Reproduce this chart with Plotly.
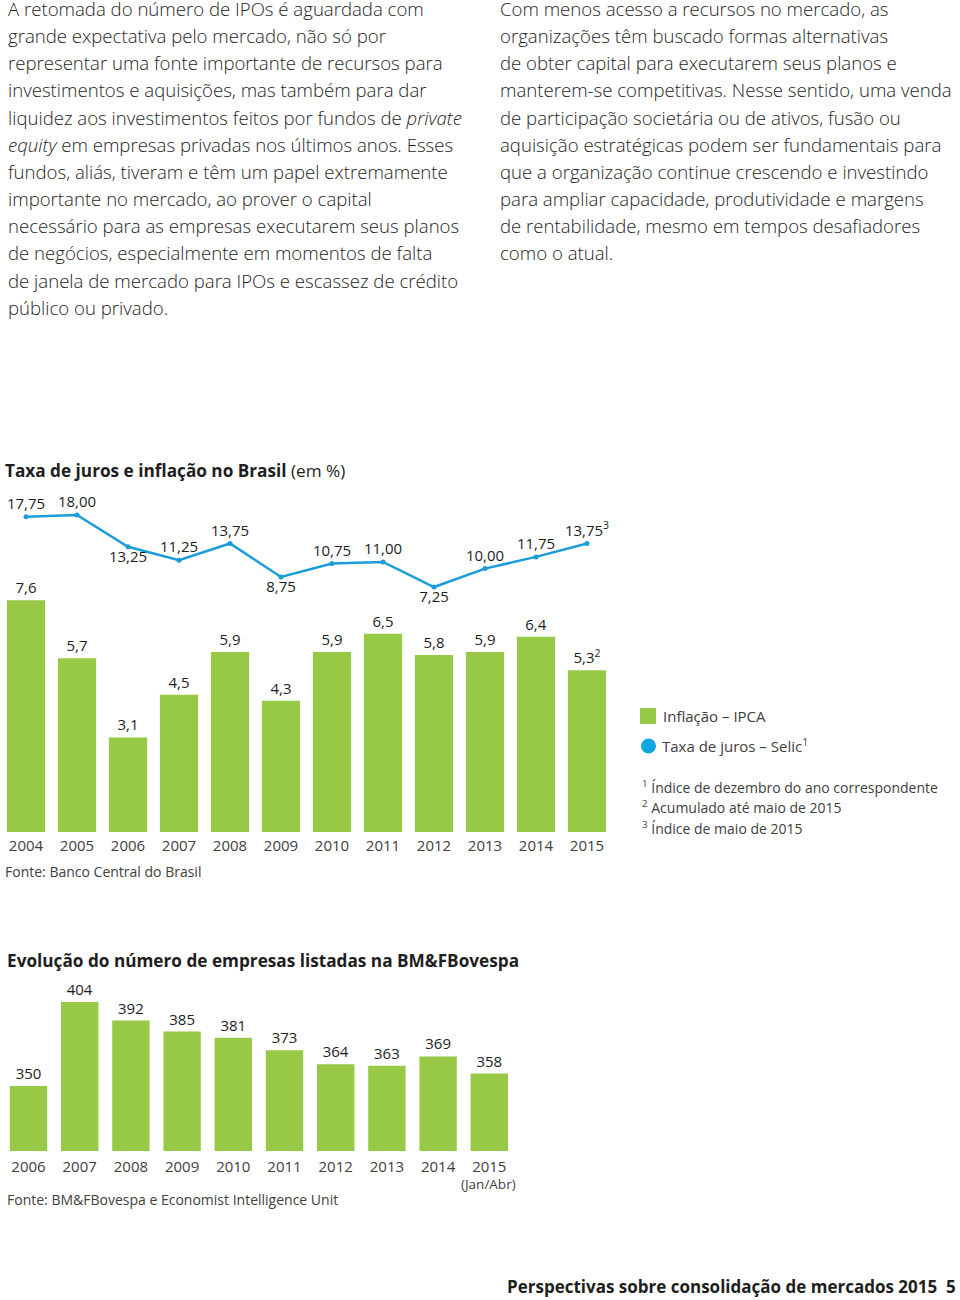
import plotly.graph_objects as go

W, H = 960, 1300

# ---------------- data ----------------
para_left = [
    "A retomada do número de IPOs é aguardada com",
    "grande expectativa pelo mercado, não só por",
    "representar uma fonte importante de recursos para",
    "investimentos e aquisições, mas também para dar",
    "liquidez aos investimentos feitos por fundos de <i>private</i>",
    "<i>equity</i> em empresas privadas nos últimos anos. Esses",
    "fundos, aliás, tiveram e têm um papel extremamente",
    "importante no mercado, ao prover o capital",
    "necessário para as empresas executarem seus planos",
    "de negócios, especialmente em momentos de falta",
    "de janela de mercado para IPOs e escassez de crédito",
    "público ou privado.",
]
para_right = [
    "Com menos acesso a recursos no mercado, as",
    "organizações têm buscado formas alternativas",
    "de obter capital para executarem seus planos e",
    "manterem-se competitivas. Nesse sentido, uma venda",
    "de participação societária ou de ativos, fusão ou",
    "aquisição estratégicas podem ser fundamentais para",
    "que a organização continue crescendo e investindo",
    "para ampliar capacidade, produtividade e margens",
    "de rentabilidade, mesmo em tempos desafiadores",
    "como o atual.",
]

rate_years = [2004, 2005, 2006, 2007, 2008, 2009, 2010, 2011, 2012, 2013, 2014, 2015]
ipca = [7.6, 5.7, 3.1, 4.5, 5.9, 4.3, 5.9, 6.5, 5.8, 5.9, 6.4, 5.3]
selic = [17.75, 18.00, 13.25, 11.25, 13.75, 8.75, 10.75, 11.00, 7.25, 10.00, 11.75, 13.75]
ipca_note = {2015: "2"}
selic_note = {2015: "3"}

listed_years = [2006, 2007, 2008, 2009, 2010, 2011, 2012, 2013, 2014, 2015]
listed = [350, 404, 392, 385, 381, 373, 364, 363, 369, 358]

footnotes = [
    ("1", "Índice de dezembro do ano correspondente"),
    ("2", "Acumulado até maio de 2015"),
    ("3", "Índice de maio de 2015"),
]

# ---------------- style ----------------
FONT = "Open Sans"
GREEN = "#97C846"
BLUE = "#1C9CD8"
BLUE_DOT = "#10A6E2"
TXT = "#1e1e1e"
GREY = "#404040"
selic_textpos = ["top center", "top center", "bottom center", "top center", "top center",
                 "bottom center", "top center", "top center", "bottom center", "top center",
                 "top center", "top center"]


def px(x):
    return x / W


def py(y):
    return 1 - y / H


def fmt(v, d, note=None):
    s = f"{v:.{d}f}".replace(".", ",")
    if note:
        s += f"<sup>{note}</sup>"
    return s


fig = go.Figure()

# Chart 1: IPCA bars
fig.add_trace(go.Bar(
    x=rate_years, y=ipca, width=0.75, marker=dict(color=GREEN, line=dict(width=0)),
    text=[fmt(v, 1, ipca_note.get(yr)) for yr, v in zip(rate_years, ipca)],
    textposition="outside", textfont=dict(family=FONT, size=15, color=TXT),
    cliponaxis=False, xaxis="x", yaxis="y", showlegend=False, hoverinfo="skip",
))
# Chart 1: Selic line
fig.add_trace(go.Scatter(
    x=rate_years, y=selic, mode="lines+markers+text",
    line=dict(color=BLUE, width=2.5), marker=dict(color=BLUE, size=5),
    text=[fmt(v, 2, selic_note.get(yr)) for yr, v in zip(rate_years, selic)],
    textposition=selic_textpos, textfont=dict(family=FONT, size=15, color=TXT),
    cliponaxis=False, xaxis="x", yaxis="y2", showlegend=False, hoverinfo="skip",
))
# Chart 2: listed companies
fig.add_trace(go.Bar(
    x=listed_years, y=listed, width=0.73, marker=dict(color=GREEN, line=dict(width=0)),
    text=[str(v) for v in listed],
    textposition="outside", textfont=dict(family=FONT, size=15, color=TXT),
    cliponaxis=False, xaxis="x2", yaxis="y3", showlegend=False, hoverinfo="skip",
))

tickfont = dict(family=FONT, size=15, color=GREY)

# axes geometry (pixels)
c1_left, c1_right, c1_bottom, c1_top = 0.5, 612.5, 832, 500
c2_left, c2_right, c2_bottom, c2_top = 2.9, 514.9, 1151, 984.8
y1_max = (c1_bottom - c1_top) / 30.5
y2_lo = 18 - (c1_bottom - 515) / 6.7
y2_hi = 18 + (515 - c1_top) / 6.7
y3_lo = 308.2
y3_hi = y3_lo + (c2_bottom - c2_top) / 1.556

fig.update_layout(
    width=W, height=H, margin=dict(l=0, r=0, t=0, b=0),
    paper_bgcolor="white", plot_bgcolor="rgba(0,0,0,0)",
    font=dict(family=FONT, color=TXT),
    xaxis=dict(domain=[px(c1_left), px(c1_right)], range=[2003.5, 2015.5], anchor="y",
               tickvals=rate_years, ticktext=[str(y) for y in rate_years], ticks="",
               showgrid=False, zeroline=False, showline=False, tickfont=tickfont,
               ticklabelstandoff=3, fixedrange=True),
    yaxis=dict(domain=[py(c1_bottom), py(c1_top)], range=[0, y1_max], anchor="x",
               visible=False, fixedrange=True),
    yaxis2=dict(overlaying="y", range=[y2_lo, y2_hi], anchor="x", side="right",
                visible=False, fixedrange=True),
    xaxis2=dict(domain=[px(c2_left), px(c2_right)], range=[2005.5, 2015.5], anchor="y3",
                tickvals=listed_years, ticktext=[str(y) for y in listed_years], ticks="",
                showgrid=False, zeroline=False, showline=False, tickfont=tickfont,
                ticklabelstandoff=5, fixedrange=True),
    yaxis3=dict(domain=[py(c2_bottom), py(c2_top)], range=[y3_lo, y3_hi], anchor="x2",
                visible=False, fixedrange=True),
)

ann = []


def text(x, y, s, size=18, color=TXT, xanchor="left", yanchor="middle", **kw):
    ann.append(dict(x=px(x), y=py(y), xref="paper", yref="paper", text=s, showarrow=False,
                    xanchor=xanchor, yanchor=yanchor, align="left",
                    font=dict(family=FONT, size=size, color=color, **kw)))


LINE_H = 27.15
for i, line in enumerate(para_left):
    text(6, 8.5 + i * LINE_H, line, size=18.6, weight=300)
for i, line in enumerate(para_right):
    text(498, 8.5 + i * LINE_H, line, size=18.6, weight=300)

# chart 1 titles etc.
text(3, 470, "<b>Taxa de juros e inflação no Brasil</b> (em %)", size=17.2)
text(3, 871, "Fonte: Banco Central do Brasil", size=14, color=GREY)

# legend
fig.add_shape(type="rect", xref="paper", yref="paper", x0=px(640), x1=px(656),
              y0=py(724), y1=py(708), fillcolor=GREEN, line=dict(width=0))
fig.add_shape(type="circle", xref="paper", yref="paper", x0=px(641), x1=px(656),
              y0=py(753.5), y1=py(738.5), fillcolor=BLUE_DOT, line=dict(width=0))
text(661, 716, "Inflação – IPCA", size=15, color=GREY)
text(660, 745, "Taxa de juros – Selic<sup>1</sup>", size=15, color=GREY)
for i, (n, s) in enumerate(footnotes):
    text(640, 787 + i * 20.3, f"<sup>{n}</sup> {s}", size=14, color=GREY)

# chart 2
text(5, 960, "<b>Evolução do número de empresas listadas na BM&FBovespa</b>", size=17.2)
ann.append(dict(x=2015, y=py(1184), xref="x2", yref="paper", text="(Jan/Abr)",
                showarrow=False, xanchor="center", yanchor="middle", xshift=-1,
                font=dict(family=FONT, size=13.5, color=GREY)))
text(5, 1199, "Fonte: BM&FBovespa e Economist Intelligence Unit", size=14, color=GREY)

# footer
text(958, 1286, "<b>Perspectivas sobre consolidação de mercados 2015\u00a0\u00a05</b>",
     size=17, xanchor="right")

fig.update_layout(annotations=ann)
fig.write_html("out.html", config={"displayModeBar": False},
               post_script="document.body.style.margin='0';")
